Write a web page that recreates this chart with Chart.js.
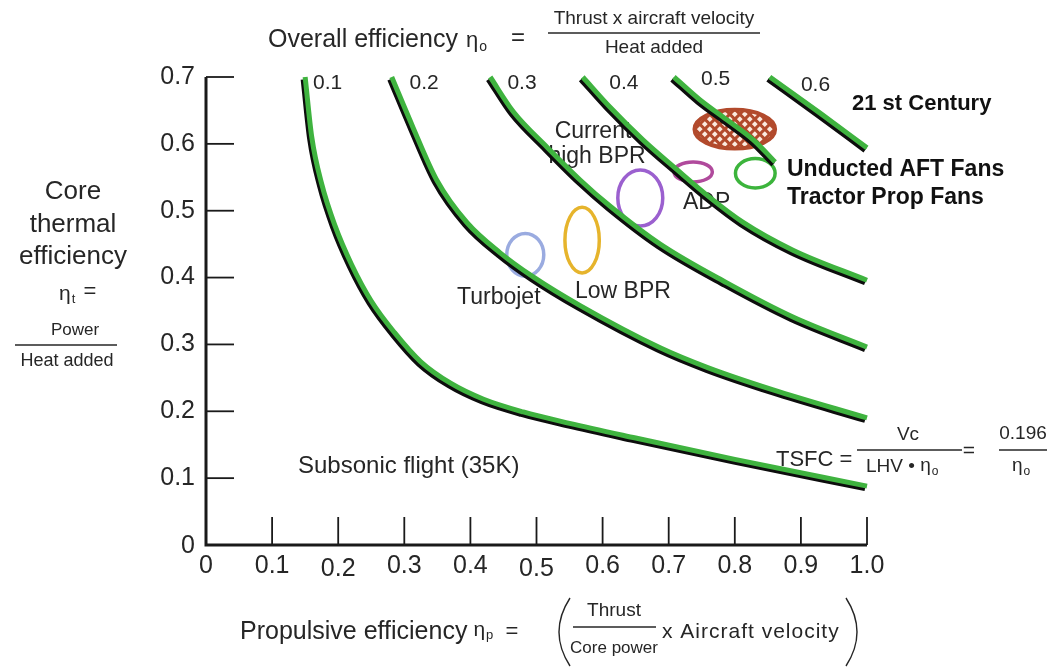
<!DOCTYPE html>
<html>
<head>
<meta charset="utf-8">
<script src="https://cdn.jsdelivr.net/npm/chart.js@4.4.0/dist/chart.umd.min.js"></script>
<style>
html, body { margin: 0; padding: 0; background: #fff; }
#wrap { width: 1050px; height: 667px; }
</style>
</head>
<body>
<div id="wrap"><canvas id="effChart" width="1050" height="667"></canvas></div>
<script>
// lines of constant overall efficiency as [eta_p, eta_t]
const overallLevels = ['0.1', '0.2', '0.3', '0.4', '0.5', '0.6'];
const curve01 = [[0.150,0.700],[0.160,0.610],[0.175,0.540],[0.195,0.478],[0.220,0.420],[0.250,0.365],[0.285,0.318],[0.325,0.274],[0.370,0.242],[0.420,0.218],[0.480,0.199],[0.550,0.182],[0.650,0.160],[0.800,0.128],[1.000,0.088]];
const curve02 = [[0.281,0.700],[0.313,0.625],[0.349,0.546],[0.395,0.482],[0.445,0.437],[0.495,0.401],[0.566,0.358],[0.687,0.295],[0.760,0.265],[0.858,0.232],[1.000,0.190]];
const curve03 = [[0.430,0.700],[0.465,0.648],[0.516,0.595],[0.566,0.546],[0.611,0.507],[0.687,0.450],[0.788,0.392],[0.888,0.341],[1.000,0.296]];
const curve04 = [[0.570,0.700],[0.611,0.655],[0.661,0.606],[0.713,0.561],[0.762,0.520],[0.812,0.483],[0.888,0.441],[1.000,0.396]];
const curve05 = [[0.708,0.700],[0.747,0.666],[0.788,0.636],[0.828,0.606],[0.861,0.573]];
const curve06 = [[0.853,0.700],[0.929,0.646],[1.000,0.594]];
const overallCurves = [curve01, curve02, curve03, curve04, curve05, curve06];

// where each efficiency number sits (eta_p, eta_t)
const levelLabelP = [0.162, 0.308, 0.456, 0.610, 0.749, 0.900];
const levelLabelT = [0.691, 0.691, 0.691, 0.691, 0.696, 0.688];

// axis ticks
const xTicks = [0, 0.1, 0.2, 0.3, 0.4, 0.5, 0.6, 0.7, 0.8, 0.9, 1.0];
const xTickLabels = ['0', '0.1', '0.2', '0.3', '0.4', '0.5', '0.6', '0.7', '0.8', '0.9', '1.0'];
const yTicks = [0, 0.1, 0.2, 0.3, 0.4, 0.5, 0.6, 0.7];
const yTickLabels = ['0', '0.1', '0.2', '0.3', '0.4', '0.5', '0.6', '0.7'];

// engine regions (ellipses), centre and half-size in eta units
const regionNames = ['Turbojet', 'Low BPR', 'Current high BPR', 'ADP', 'Unducted / Prop fans', '21st Century'];
const regionP = [0.483, 0.569, 0.657, 0.737, 0.831, 0.800];
const regionT = [0.434, 0.456, 0.519, 0.558, 0.556, 0.622];
const regionHalfP = [0.028, 0.026, 0.034, 0.029, 0.030, 0.061];
const regionHalfT = [0.032, 0.049, 0.042, 0.015, 0.022, 0.029];
const regionColors = ['#9aabe0', '#e6b42c', '#9b60cf', '#b04a9c', '#3cb43c', '#b24a2c'];

const LINE_GREEN = '#3fb33f';
const TEXT = '#262626';
const FONT = '"Liberation Sans", Arial, sans-serif';

function txt(ctx, s, x, y, size, align, bold, spacing) {
    ctx.font = (bold ? 'bold ' : '') + size + 'px ' + FONT;
    ctx.textAlign = align || 'left';
    ctx.textBaseline = 'middle';
    ctx.fillStyle = bold ? '#111' : TEXT;
    ctx.letterSpacing = spacing || '0px';
    ctx.fillText(s, x, y);
    const w = ctx.measureText(s).width;
    ctx.letterSpacing = '0px';
    return w;
}

// eta with a small subscript, returns width used
function eta(ctx, x, y, sub, size) {
    ctx.font = size + 'px ' + FONT;
    ctx.textAlign = 'left';
    ctx.textBaseline = 'middle';
    ctx.fillStyle = TEXT;
    ctx.fillText('\u03b7', x, y);
    const w = ctx.measureText('\u03b7').width;
    ctx.font = Math.round(size * 0.62) + 'px ' + FONT;
    ctx.fillText(sub, x + w + 1, y + size * 0.28);
    return w + 1 + ctx.measureText(sub).width;
}

function hline(ctx, x1, x2, y, w) {
    ctx.beginPath();
    ctx.moveTo(x1, y);
    ctx.lineTo(x2, y);
    ctx.lineWidth = w || 1.3;
    ctx.strokeStyle = TEXT;
    ctx.stroke();
}

const decorPlugin = {
    id: 'decor',
    beforeDatasetsDraw(chart) {
        const ctx = chart.ctx;
        const xs = chart.scales.x, ys = chart.scales.y;
        ctx.save();

        // engine regions
        for (let i = 0; i < regionNames.length; i++) {
            const cx = xs.getPixelForValue(regionP[i]);
            const cy = ys.getPixelForValue(regionT[i]);
            const rx = xs.getPixelForValue(regionP[i] + regionHalfP[i]) - cx;
            const ry = cy - ys.getPixelForValue(regionT[i] + regionHalfT[i]);
            ctx.beginPath();
            ctx.ellipse(cx, cy, rx, ry, 0, 0, Math.PI * 2);
            if (i === 5) {
                ctx.save();
                ctx.fillStyle = '#fbeadf';
                ctx.fill();
                ctx.clip();
                ctx.strokeStyle = regionColors[i];
                ctx.lineWidth = 3;
                for (let d = -120; d <= 120; d += 10) {
                    ctx.beginPath();
                    ctx.moveTo(cx + d - 40, cy - 40);
                    ctx.lineTo(cx + d + 40, cy + 40);
                    ctx.moveTo(cx + d + 40, cy - 40);
                    ctx.lineTo(cx + d - 40, cy + 40);
                    ctx.stroke();
                }
                ctx.restore();
                ctx.beginPath();
                ctx.ellipse(cx, cy, rx, ry, 0, 0, Math.PI * 2);
                ctx.lineWidth = 4;
            } else {
                ctx.lineWidth = 3.5;
            }
            ctx.strokeStyle = regionColors[i];
            ctx.stroke();
        }

        // axes
        const x0 = xs.getPixelForValue(0), x1 = xs.getPixelForValue(1);
        const y0 = ys.getPixelForValue(0), y1 = ys.getPixelForValue(0.7);
        ctx.strokeStyle = '#1a1a1a';
        ctx.lineWidth = 3;
        ctx.beginPath();
        ctx.moveTo(x0, y1);
        ctx.lineTo(x0, y0);
        ctx.lineTo(x1, y0);
        ctx.stroke();
        ctx.lineWidth = 1.8;
        yTicks.forEach((v, i) => {
            const y = ys.getPixelForValue(v);
            if (v > 0) {
                ctx.beginPath();
                ctx.moveTo(x0, y);
                ctx.lineTo(x0 + 28, y);
                ctx.stroke();
            }
            txt(ctx, yTickLabels[i], x0 - 11, y + (v === 0 ? 1 : 0), 25, 'right');
        });
        xTicks.forEach((v, i) => {
            const x = xs.getPixelForValue(v);
            if (v > 0) {
                ctx.beginPath();
                ctx.moveTo(x, y0);
                ctx.lineTo(x, y0 - 28);
                ctx.stroke();
            }
            // the pasted-on 0.2 and 0.5 labels sit a little lower
            const drop = (i === 2 || i === 5) ? 3 : 0;
            txt(ctx, xTickLabels[i], x, y0 + 21 + drop, 25, 'center');
        });

        // efficiency numbers on the curves
        overallLevels.forEach((s, i) => {
            txt(ctx, s, xs.getPixelForValue(levelLabelP[i]), ys.getPixelForValue(levelLabelT[i]), 21, 'left');
        });

        // top title
        let w = txt(ctx, 'Overall efficiency', 268, 40, 25, 'left');
        eta(ctx, 268 + w + 8, 41, 'o', 22);
        txt(ctx, '=', 518, 38, 24, 'center');
        txt(ctx, 'Thrust x aircraft velocity', 654, 19, 19, 'center');
        hline(ctx, 548, 760, 33);
        txt(ctx, 'Heat added', 654, 48, 19, 'center');

        // left title
        txt(ctx, 'Core', 73, 192, 26, 'center');
        txt(ctx, 'thermal', 73, 225, 26, 'center');
        txt(ctx, 'efficiency', 73, 257, 26, 'center');
        eta(ctx, 59, 294, 't', 21);
        txt(ctx, '=', 90, 292, 22, 'center');
        txt(ctx, 'Power', 75, 330, 17, 'center');
        hline(ctx, 15, 117, 345);
        txt(ctx, 'Heat added', 67, 361, 18, 'center');

        // bottom title
        w = txt(ctx, 'Propulsive efficiency', 240, 632, 25, 'left');
        eta(ctx, 240 + w + 6, 630, 'p', 21);
        txt(ctx, '=', 512, 632, 22, 'center');
        ctx.lineWidth = 1.4;
        ctx.strokeStyle = TEXT;
        ctx.beginPath();
        ctx.moveTo(570, 598);
        ctx.quadraticCurveTo(548, 632, 570, 666);
        ctx.moveTo(846, 598);
        ctx.quadraticCurveTo(868, 632, 846, 666);
        ctx.stroke();
        txt(ctx, 'Thrust', 614, 611, 19, 'center');
        hline(ctx, 573, 656, 627);
        txt(ctx, 'Core power', 614, 648, 17, 'center');
        txt(ctx, 'x Aircraft velocity', 662, 632, 21, 'left', false, '1px');

        // region labels
        txt(ctx, 'Current', 593, 132, 23, 'center');
        txt(ctx, 'high BPR', 597, 157, 23, 'center');
        txt(ctx, 'ADP', 683, 203, 23, 'left');
        txt(ctx, 'Turbojet', 457, 298, 23, 'left');
        txt(ctx, 'Low BPR', 575, 292, 23, 'left');
        txt(ctx, 'Subsonic flight (35K)', 298, 466, 24, 'left');
        txt(ctx, '21 st Century', 852, 104, 22, 'left', true);
        txt(ctx, 'Unducted AFT Fans', 787, 170, 23, 'left', true);
        txt(ctx, 'Tractor Prop Fans', 787, 198, 23, 'left', true);

        // TSFC relation
        txt(ctx, 'TSFC =', 776, 460, 22, 'left');
        txt(ctx, 'Vc', 908, 435, 19, 'center');
        hline(ctx, 857, 962, 450);
        ctx.font = '19px ' + FONT;
        const lw = ctx.measureText('LHV \u2022 ').width;
        txt(ctx, 'LHV \u2022 ', 866, 467, 19, 'left');
        eta(ctx, 866 + lw, 466, 'o', 19);
        txt(ctx, '=', 969, 451, 21, 'center');
        txt(ctx, '0.196', 1023, 434, 19, 'center');
        hline(ctx, 999, 1047, 450);
        eta(ctx, 1012, 466, 'o', 19);

        ctx.restore();
    }
};

// black offset under the green lines
const shadowPlugin = {
    id: 'lineShadow',
    beforeDatasetsDraw(chart) {
        const ctx = chart.ctx;
        ctx.save();
        ctx.shadowColor = '#0d0d0d';
        ctx.shadowOffsetX = -2;
        ctx.shadowOffsetY = 2.5;
        ctx.shadowBlur = 0;
    },
    afterDatasetsDraw(chart) {
        chart.ctx.restore();
    }
};

const ctx = document.getElementById('effChart').getContext('2d');
const chart = new Chart(ctx, {
    type: 'scatter',
    data: {
        datasets: overallCurves.map((c, i) => ({
            label: 'eta_o = ' + overallLevels[i],
            data: c.map(p => ({ x: p[0], y: p[1] })),
            showLine: true,
            borderColor: LINE_GREEN,
            borderWidth: 5,
            pointRadius: 0,
            cubicInterpolationMode: 'monotone',
            borderCapStyle: 'butt',
            clip: false
        }))
    },
    options: {
        responsive: false,
        animation: false,
        devicePixelRatio: 1,
        layout: { padding: { left: 206, right: 183, top: 77, bottom: 122 } },
        plugins: { legend: { display: false }, tooltip: { enabled: false } },
        scales: {
            x: { type: 'linear', min: 0, max: 1, display: false },
            y: { type: 'linear', min: 0, max: 0.7, display: false }
        }
    },
    plugins: [decorPlugin, shadowPlugin]
});
</script>
</body>
</html>
